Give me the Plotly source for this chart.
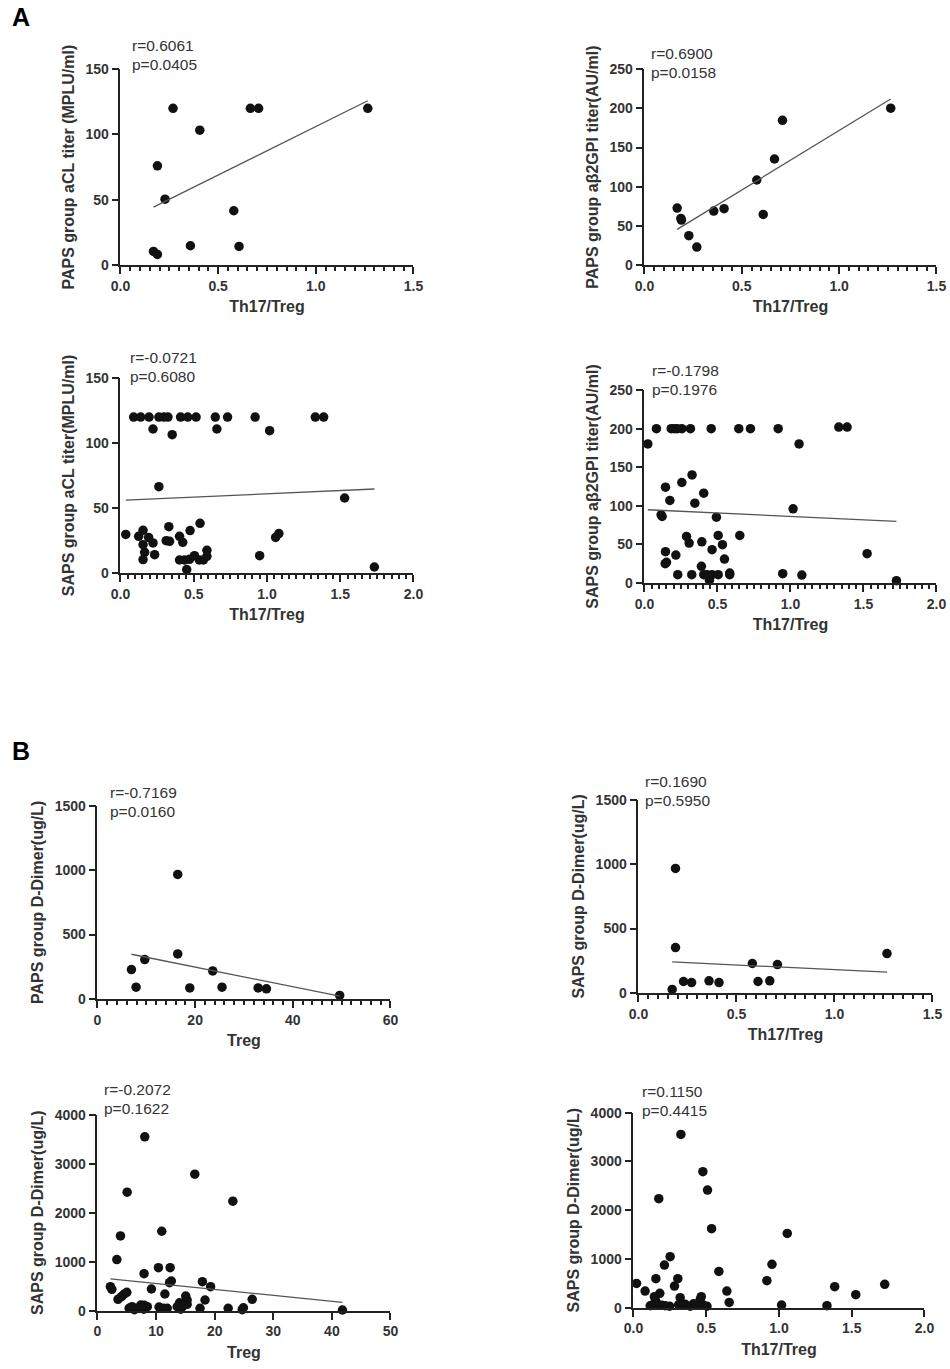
import plotly.graph_objects as go
from plotly.subplots import make_subplots

W, H = 950, 1369

## ---- data ----
## A: PAPS aCL vs Th17/Treg
a1_x = [0.169, 0.189, 0.189, 0.228, 0.269, 0.358, 0.406, 0.580, 0.607, 0.665, 0.707, 1.266]
a1_y = [10.5, 8.2, 76, 50.5, 120, 14.8, 103.3, 41.6, 14.3, 120, 120, 120]
a1_fit = (74.2, 31.9)  # slope, intercept

## A: PAPS ab2GPI vs Th17/Treg
a2_x = [0.168, 0.187, 0.190, 0.228, 0.269, 0.356, 0.409, 0.577, 0.610, 0.668, 0.709, 1.265]
a2_y = [72.8, 59.6, 57.5, 37.5, 23, 69, 72, 108.6, 64.7, 135.4, 184.8, 200.2]
a2_fit = (151.6, 20.1)

## A: SAPS aCL vs Th17/Treg
a3_x = [0.090, 0.138, 0.195, 0.262, 0.296, 0.324, 0.410, 0.459, 0.516, 0.647, 0.731, 0.919, 1.330, 1.387,
        0.222, 0.353, 0.658, 1.018, 0.262, 1.530,
        0.036, 0.154, 0.124, 0.192, 0.222, 0.154, 0.165, 0.233, 0.154, 0.330, 0.312, 0.335,
        0.403, 0.425, 0.475, 0.543, 0.403, 0.437, 0.471, 0.505, 0.538, 0.566, 0.590, 0.590,
        0.452, 0.950, 1.059, 1.081, 1.733]
a3_y = [120, 120, 120, 120, 120, 120, 120, 120, 120, 120, 120, 120, 120, 120,
        110.8, 106.4, 110.8, 109.5, 66.4, 57.7,
        29.7, 32.8, 28.2, 27.4, 23.1, 21.8, 15.9, 14.1, 10.3, 35.6, 24.9, 24.4,
        28.2, 23.6, 32.6, 38.2, 10, 10, 10.5, 13.3, 10, 10, 17.4, 12.8,
        2.6, 13.3, 27.4, 30.3, 4.6]
a3_fit = (5.1, 55.8)

## A: SAPS ab2GPI vs Th17/Treg
a4_x = [0.082, 0.183, 0.205, 0.224, 0.256, 0.315, 0.457, 0.646, 0.726, 0.916, 1.331, 1.388,
        0.023, 1.059, 0.326, 0.256, 0.144, 0.406, 0.174, 0.345, 0.114, 0.121, 1.018, 0.493,
        0.288, 0.306, 0.505, 0.653, 0.393, 0.534, 0.463, 0.144, 0.215, 0.548, 0.151, 0.142,
        0.390, 0.228, 0.324, 0.406, 0.429, 0.463, 0.505, 0.445, 0.584, 0.584, 0.947, 1.078,
        1.525, 1.726]
a4_y = [200, 200, 200, 200, 200, 200, 200, 200, 200, 200, 202, 202,
        180.2, 180.2, 140, 130.2, 124.1, 116.4, 106.9, 103.4, 88.4, 86.2, 96.1, 85.3,
        60.3, 51.7, 61.6, 61.6, 53.4, 49.6, 43.1, 40.5, 36.2, 31, 26.7, 25,
        21.6, 10.8, 10.8, 10.8, 10.8, 10.8, 10.8, 3.4, 12.9, 10.8, 12, 10.3,
        37.9, 3]
a4_fit = (-8.9, 95.1)

## B: PAPS D-Dimer vs Treg
b1_x = [6.95, 7.9, 9.68, 16.43, 16.43, 18.9, 23.6, 25.5, 32.9, 34.6, 49.6]
b1_y = [227.6, 90.5, 305, 967, 349, 85, 217, 90.5, 85, 77.6, 25.9]
b1_fit = (-7.64, 399.6)

## B: SAPS D-Dimer vs Th17/Treg (small group)
b2_x = [0.172, 0.189, 0.189, 0.230, 0.271, 0.360, 0.411, 0.581, 0.610, 0.670, 0.709, 1.268]
b2_y = [25.9, 967, 352, 88, 80, 93, 80, 228, 88, 93, 220, 305]
b2_fit = (-73.2, 253.1)

## B: SAPS D-Dimer vs Treg
b3_x = [8.07, 16.6, 5.06, 23.1, 3.92, 10.97, 3.3, 7.95, 10.4, 12.4, 12.6, 12.3, 17.9, 19.3,
        9.2, 11.5, 2.2, 2.45, 3.5, 4.1, 4.5, 5.0, 15.06, 15.3, 18.35, 26.4, 41.8,
        5.4, 5.9, 6.8, 7.4, 7.9, 8.5, 10.5, 11.2, 11.9, 13.6, 14.2, 14.6, 15.3, 17.5,
        22.3, 24.7, 24.9, 6.3, 8.0, 14.0]
b3_y = [3550, 2787, 2419, 2235, 1526, 1622, 1043, 756, 879, 879, 606, 572, 593, 490,
        443, 341, 490, 436, 232, 286, 334, 375, 300, 218, 218, 232, 14,
        48, 82, 48, 116, 30, 82, 75, 48, 48, 80, 30, 100, 130, 48,
        48, 20, 60, 20, 110, 160]
b3_fit = (-12.1, 676.6)

## B: SAPS D-Dimer vs Th17/Treg
b4_x = [0.326, 0.477, 0.509, 0.174, 0.537, 1.057, 0.252, 0.213, 0.952, 0.587, 0.917, 0.305,
        0.154, 0.021, 0.282, 1.727, 1.383, 1.528, 0.080, 0.642, 0.181, 0.658, 1.018, 1.330,
        0.144, 0.151, 0.321, 0.466, 0.459,
        0.115, 0.138, 0.172, 0.195, 0.218, 0.248, 0.310, 0.333, 0.356, 0.390, 0.413, 0.436,
        0.459, 0.482, 0.505]
b4_y = [3556, 2790, 2414, 2236, 1621, 1525, 1046, 875, 889, 745, 554, 595,
        595, 499, 444, 479, 431, 267, 342, 342, 294, 109, 55, 41,
        226, 157, 205, 226, 171,
        40, 70, 60, 50, 40, 30, 60, 50, 70, 30, 80, 60,
        100, 50, 30]
b4_fit = None

y_titles = ["PAPS group aCL titer (MPLU/ml)", "PAPS group a\u03b22GPI titer(AU/ml)",
            "SAPS group aCL titer(MPLU/ml)", "SAPS group a\u03b22GPI titer(AU/ml)",
            "PAPS group D-Dimer(ug/L)", "SAPS group D-Dimer(ug/L)",
            "SAPS group D-Dimer(ug/L)", "SAPS group D-Dimer(ug/L)"]
x_titles = ["Th17/Treg", "Th17/Treg", "Th17/Treg", "Th17/Treg",
            "Treg", "Th17/Treg", "Treg", "Th17/Treg"]
r_texts = ["r=0.6061", "r=0.6900", "r=-0.0721", "r=-0.1798",
           "r=-0.7169", "r=0.1690", "r=-0.2072", "r=0.1150"]
p_texts = ["p=0.0405", "p=0.0158", "p=0.6080", "p=0.1976",
           "p=0.0160", "p=0.5950", "p=0.1622", "p=0.4415"]

## ---- layout in reference pixels: (x0, x1, ytop, ybottom), axis ranges, ticks ----
boxes = [(120, 413, 69, 265), (644, 936, 69, 265),
         (120, 413, 378, 573), (644, 936, 390, 583),
         (97, 390, 806, 999), (638, 932, 800, 993),
         (97, 390, 1115, 1311), (633, 924, 1113, 1308)]
xr = [(1.5, 0.5, 0.05), (1.5, 0.5, 0.05), (2, 0.5, 0.05), (2, 0.5, 0.05),
      (60, 20, 2), (1.5, 0.5, 0.05), (50, 10, None), (2, 0.5, None)]
yr = [(150, 50), (250, 50), (150, 50), (250, 50),
      (1500, 500), (1500, 500), (4000, 1000), (4000, 1000)]
## annotation left edge and centre of the r line, in px
ann = [(130, 45), (649, 53), (128, 357), (650, 370),
       (108, 793), (643, 782), (102, 1090), (640, 1092)]

xs = [a1_x, a2_x, a3_x, a4_x, b1_x, b2_x, b3_x, b4_x]
ys = [a1_y, a2_y, a3_y, a4_y, b1_y, b2_y, b3_y, b4_y]
fits = [a1_fit, a2_fit, a3_fit, a4_fit, b1_fit, b2_fit, b3_fit, b4_fit]

## the photographed page comes out slightly inset; map reference px -> paper
def fx(px):
  return (px - 9.5) / 0.979 / W

def fy(py):
  return 1 - (py - 7.8) / 0.9887 / H

FONT = "Liberation Sans, Arial, sans-serif"
INK = "#222222"
TXT = "#333333"

fig = make_subplots(rows=4, cols=2)

for i in range(8):
  row, col = i // 2 + 1, i % 2 + 1
  fig.add_trace(go.Scatter(x=xs[i], y=ys[i], mode="markers", cliponaxis=False,
                           marker=dict(size=9.5, color="#111111"), showlegend=False),
                row=row, col=col)
  if fits[i] is not None:
    m, b = fits[i]
    x0, x1 = min(xs[i]), max(xs[i])
    fig.add_trace(go.Scatter(x=[x0, x1], y=[m * x0 + b, m * x1 + b], mode="lines",
                             line=dict(color="#555555", width=1.3), showlegend=False),
                  row=row, col=col)

for i in range(8):
  n = "" if i == 0 else str(i + 1)
  px0, px1, pyt, pyb = boxes[i]
  xmax, xd, xminor = xr[i]
  ymax, yd = yr[i]
  xfmt = ".1f" if xd < 1 else "d"
  minor = dict(dtick=xminor, ticks="outside", ticklen=4, tickwidth=1.5, tickcolor=INK) \
      if xminor else dict(ticks="")
  fig.layout["xaxis" + n].update(
    domain=[fx(px0), fx(px1)], range=[0, xmax], dtick=xd, tick0=0, tickformat=xfmt,
    showgrid=False, zeroline=False, showline=True, linecolor=INK, linewidth=1.8,
    ticks="outside", ticklen=7, tickwidth=1.8, tickcolor=INK, minor=minor,
    tickfont=dict(family=FONT, size=14, color=TXT, weight="bold"),
    title=dict(text=x_titles[i], standoff=8,
               font=dict(family=FONT, size=16, color=TXT, weight="bold")))
  fig.layout["yaxis" + n].update(
    domain=[fy(pyb), fy(pyt)], range=[0, ymax], dtick=yd, tick0=0,
    showgrid=False, zeroline=False, showline=True, linecolor=INK, linewidth=1.8,
    ticks="outside", ticklen=7, tickwidth=1.8, tickcolor=INK,
    tickfont=dict(family=FONT, size=14, color=TXT, weight="bold"),
    title=dict(text=y_titles[i], standoff=7,
               font=dict(family=FONT, size=16, color=TXT, weight="bold")))
  ax, ay = ann[i]
  fig.add_annotation(xref="paper", yref="paper", x=fx(ax), y=fy(ay),
                     xanchor="left", yanchor="middle", showarrow=False,
                     text=r_texts[i], font=dict(family=FONT, size=15.5, color=TXT))
  fig.add_annotation(xref="paper", yref="paper", x=fx(ax), y=fy(ay + 19),
                     xanchor="left", yanchor="middle", showarrow=False,
                     text=p_texts[i], font=dict(family=FONT, size=15.5, color=TXT))

## panel letters
for letter, lx, ly in [("A", 10, 17), ("B", 16, 751)]:
  fig.add_annotation(xref="paper", yref="paper", x=max(fx(lx - 10), 0), y=fy(ly),
                     xanchor="left", yanchor="middle", showarrow=False, text=letter,
                     font=dict(family=FONT, size=25, color="#000000", weight="bold"))

fig.update_layout(width=W, height=H, margin=dict(l=0, r=0, t=0, b=0),
                  plot_bgcolor="white", paper_bgcolor="white")

## page has a default body margin; drop it so the figure sits at the window origin
fig.write_html("out.html", config={"displayModeBar": False},
               post_script="document.body.style.margin='0px';")
